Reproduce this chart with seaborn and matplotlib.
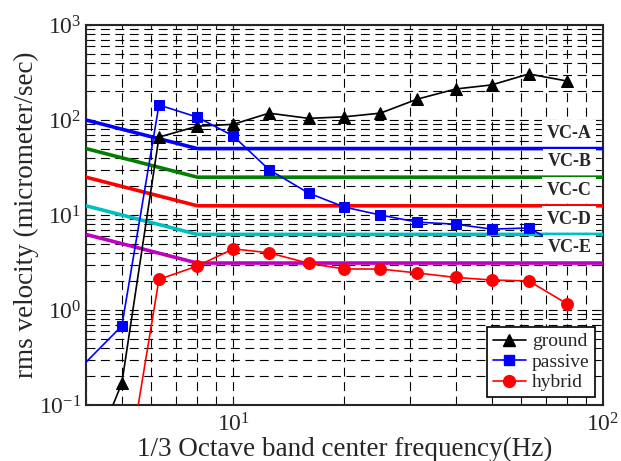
import numpy as np
import pandas as pd
import seaborn as sns
import matplotlib
matplotlib.use("Agg")
import matplotlib.pyplot as plt
from matplotlib.lines import Line2D

freq = [3.15, 5, 6.3, 8, 10, 12.5, 16, 20, 25, 31.5, 40, 50, 63, 80]
ground = [0.002, 0.17, 66, 86, 90, 118, 104, 108, 118, 166, 212, 234, 305, 257]
passive = [0.11, 0.68, 144, 107, 68, 30, 17, 12.1, 10, 8.4, 8.0, 7.1, 7.3, 4.4]
hybrid = [0.004, 0.009, 2.1, 2.9, 4.4, 4.0, 3.1, 2.7, 2.7, 2.45, 2.2, 2.07, 2.02, 1.16]

vc_names = ["VC-A", "VC-B", "VC-C", "VC-D", "VC-E"]
vc_levels = [50, 25, 12.5, 6.25, 3.12]
vc_colors = ["#0000ff", "#007f00", "#ff0000", "#00bfbf", "#bf00bf"]
vc_freq = [4, 8, 100]

sns.set_style("ticks")
plt.rcParams["font.family"] = ["Liberation Serif", "DejaVu Serif"]
plt.rcParams["mathtext.fontset"] = "stix"

df = pd.DataFrame({"freq": freq, "ground": ground, "passive": passive, "hybrid": hybrid})

fig, ax = plt.subplots(figsize=(6.21, 4.61), dpi=100)
fig.subplots_adjust(left=0.1385, right=0.971, bottom=0.1215, top=0.9458)
ax.set_xscale("log")
ax.set_yscale("log")

# vibration criteria curves
for name, lev, col in zip(vc_names, vc_levels, vc_colors):
    vdf = pd.DataFrame({"f": vc_freq, "v": [lev * 2, lev, lev]})
    sns.lineplot(data=vdf, x="f", y="v", color=col, lw=2.6, ax=ax, legend=False, zorder=3)
    ax.text(93, lev * 1.45, name, ha="right", va="center", fontsize=13, fontweight="bold",
            bbox=dict(boxstyle="square,pad=0.25", fc="white", ec="none"), zorder=6)

styles = [("ground", "black", "^", 9), ("passive", "#0000ff", "s", 7), ("hybrid", "#ff0000", "o", 8.5)]
handles = []
for col, c, m, ms in styles:
    sns.lineplot(data=df, x="freq", y=col, color=c, marker=m, markersize=ms, markeredgecolor=c,
                 lw=1.2, ax=ax, legend=False, zorder=5)
    handles.append(Line2D([], [], color=c, marker=m, markersize=ms, lw=1.2, label=col))

ax.set_xlim(4, 100)
ax.set_ylim(0.1, 1000)
ax.grid(True, which="both", color="black", linestyle=(0, (8, 5)), lw=0.8)
ax.tick_params(which="both", direction="in", top=True, right=True, labelsize=17)
ax.tick_params(axis="x", pad=6)
for s in ax.spines.values():
    s.set_linewidth(1.5)

ax.set_xlabel("1/3 Octave band center frequency(Hz)", fontsize=19.5, labelpad=0)
ax.set_ylabel("rms velocity (micrometer/sec)", fontsize=19.5, labelpad=0)

leg = ax.legend(handles=handles, loc="lower right", fontsize=14, frameon=True, fancybox=False,
                edgecolor="black", framealpha=1, handlelength=1.7, borderpad=0.3,
                labelspacing=0.15, handletextpad=0.3, borderaxespad=0.4)
leg.get_frame().set_linewidth(1.2)
leg.set_zorder(7)

plt.savefig("out.png", dpi=100)
